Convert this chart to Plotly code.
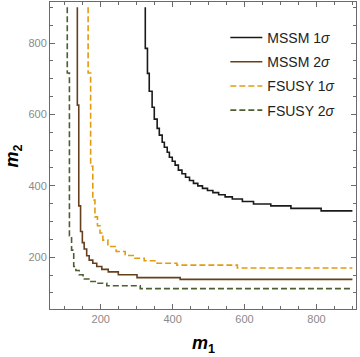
import plotly.graph_objects as go

# step curves (corner points, value changes at each x)
mssm1_x = [324, 324, 330, 335, 343, 349, 357, 363, 371, 377, 385, 391, 399, 407, 416, 426, 436, 447, 458,
           470, 483, 497, 512, 528, 546, 566, 594, 625, 673, 729, 813, 900]
mssm1_y = [900, 785, 715, 665, 620, 587, 561, 542, 522, 508, 494, 480, 469, 458, 444, 434, 424, 415, 407,
           400, 393, 387, 381, 375, 369, 363, 356, 349, 344, 337, 330, 330]

mssm2_x = [135, 135, 139, 144, 149, 154, 161, 168, 178, 189, 203, 221, 249, 301, 421, 900]
mssm2_y = [900, 626, 344, 272, 241, 223, 204, 192, 183, 174, 166, 159, 151, 143, 138, 138]

fsusy1_x = [165, 165, 172, 178, 184, 191, 198, 206, 220, 243, 268, 293, 321, 357, 412, 580, 900]
fsusy1_y = [900, 716, 455, 360, 313, 288, 268, 248, 230, 216, 205, 197, 190, 183, 178, 170, 170]

fsusy2_x = [107, 107, 113, 119, 125, 131, 140, 151, 170, 189, 217, 310, 900]
fsusy2_y = [900, 716, 260, 220, 174, 163, 151, 139, 132, 127, 120, 112, 112]

series = [
    ("MSSM 1<i>σ</i>", mssm1_x, mssm1_y, "#1a1a1a", "solid"),
    ("MSSM 2<i>σ</i>", mssm2_x, mssm2_y, "#65401f", "solid"),
    ("FSUSY 1<i>σ</i>", fsusy1_x, fsusy1_y, "#e29c10", "6px,3px"),
    ("FSUSY 2<i>σ</i>", fsusy2_x, fsusy2_y, "#4d5e30", "6px,3px"),
]

fig = go.Figure()
for i, (name, xs, ys, col, dash) in enumerate(series):
    fig.add_trace(go.Scatter(x=xs, y=ys, mode="lines", name=name, legendgroup=str(i),
                             line=dict(color=col, width=1.6, dash=dash, shape="hv")))

axis_style = dict(
    showgrid=False, zeroline=False, showline=True, mirror="allticks", automargin=False,
    linecolor="#6a6a6a", linewidth=1, ticks="inside", ticklen=5, tickcolor="#6a6a6a",
    tickfont=dict(family="Liberation Sans", size=11, color="#8a8a8a"),
    tickvals=[200, 400, 600, 800],
    minor=dict(ticks="inside", ticklen=3, tickcolor="#6a6a6a", dtick=50, tick0=0, showgrid=False),
)

fig.update_xaxes(range=[59, 910], **axis_style)
fig.update_yaxes(range=[55, 915], **axis_style)

title_font = dict(family="Liberation Sans", size=18, color="black")
fig.add_annotation(text="<b><i>m</i><sub>1</sub></b>", xref="paper", yref="paper", x=0.5, y=-0.117,
                   showarrow=False, font=title_font, xanchor="center", yanchor="middle")
fig.add_annotation(text="<b><i>m</i><sub>2</sub></b>", xref="paper", yref="paper", x=-0.118, y=0.5,
                   showarrow=False, font=title_font, textangle=-90, xanchor="center", yanchor="middle")

fig.update_layout(
    width=360, height=357,
    margin=dict(l=50, r=4, t=2, b=48),
    plot_bgcolor="white", paper_bgcolor="white",
    legend=dict(x=0.573, y=0.935, xanchor="left", yanchor="top", tracegroupgap=3, itemwidth=32,
                bgcolor="rgba(0,0,0,0)", font=dict(family="Liberation Sans", size=14, color="#222")),
)

fig.write_html("out.html", config={"displayModeBar": False},
               post_script="document.body.style.margin='0';")
